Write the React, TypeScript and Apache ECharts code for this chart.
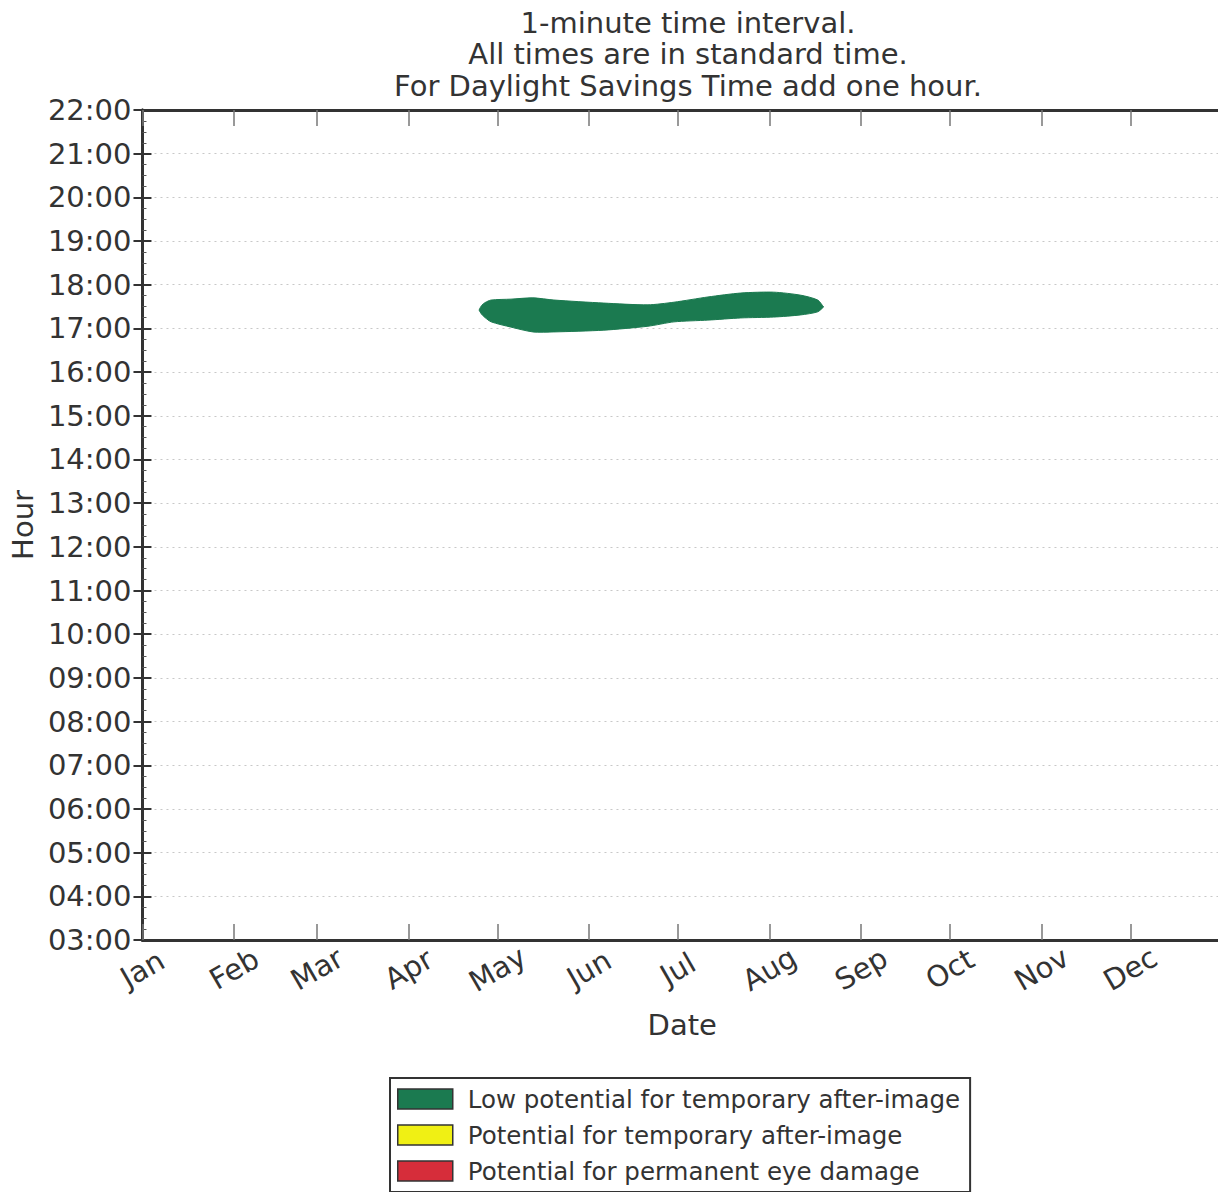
import React, { useEffect, useRef } from "react";
import * as echarts from "echarts";

const titleLines = [
  "1-minute time interval.",
  "All times are in standard time.",
  "For Daylight Savings Time add one hour.",
];
const monthStarts = [0, 31, 59, 90, 120, 151, 181, 212, 243, 273, 304, 334];
const monthNames = ["Jan", "Feb", "Mar", "Apr", "May", "Jun", "Jul", "Aug", "Sep", "Oct", "Nov", "Dec"];
const hourMin = 3;
const hourMax = 22;

// Glare occurrence band: day of year, start hour, end hour
const glareDays = [113.8, 114.6, 115.8, 117.9, 124.6, 132.0, 139.1, 156.0, 170.9, 179.7, 191.2, 202.3, 213.4, 222.6, 228.3, 230.3];
const glareStart = [17.42, 17.33, 17.25, 17.15, 17.03, 16.92, 16.92, 16.96, 17.05, 17.15, 17.19, 17.24, 17.26, 17.31, 17.38, 17.49];
const glareEnd = [17.42, 17.52, 17.59, 17.65, 17.67, 17.7, 17.65, 17.58, 17.54, 17.6, 17.72, 17.81, 17.83, 17.76, 17.65, 17.49];

const legendNames = [
  "Low potential for temporary after-image",
  "Potential for temporary after-image",
  "Potential for permanent eye damage",
];
const legendColors = ["#1b7a50", "#f0f014", "#d62d3a"];

const FONT = "DejaVu Sans";
const INK = "#333333";

export default function App() {
  const ref = useRef<HTMLDivElement>(null);
  useEffect(() => {
    if (!ref.current) return;
    const chart = echarts.init(ref.current, undefined, { renderer: "svg" });
    const glareData = glareDays.map((d, i) => [d, glareStart[i], glareEnd[i]]);
    const axisLineStyle = { color: INK, width: 3 };
    chart.setOption({
      animation: false,
      backgroundColor: "#ffffff",
      title: {
        text: titleLines.join("\n"),
        left: 683,
        top: 2,
        textAlign: "center",
        textStyle: { fontFamily: FONT, fontSize: 29, fontWeight: "normal", color: INK, lineHeight: 31.5 },
      },
      grid: { left: 141, right: 8, top: 110, bottom: 252, containLabel: false },
      legend: {
        orient: "vertical",
        left: 390,
        top: 1078,
        padding: [8, 10, 8, 7],
        borderColor: INK,
        borderWidth: 2,
        itemWidth: 55,
        itemHeight: 20,
        itemGap: 10,
        textStyle: { fontFamily: FONT, fontSize: 24.5, color: INK, lineHeight: 26, padding: [0, 0, 0, 10] },
        data: legendNames.map((n, i) => ({
          name: n,
          icon: "rect",
          itemStyle: { color: legendColors[i], borderColor: INK, borderWidth: 1.5 },
        })),
      },
      xAxis: [
        {
          type: "value",
          min: 0,
          max: 365,
          name: "Date",
          nameLocation: "middle",
          nameGap: 70,
          nameTextStyle: { fontFamily: FONT, fontSize: 29, color: INK, verticalAlign: "top" },
          axisLine: { show: true, lineStyle: axisLineStyle },
          axisTick: { show: true, inside: true, length: 16, customValues: monthStarts, lineStyle: { color: "#777", width: 1.5 } },
          axisLabel: {
            customValues: monthStarts,
            rotate: 30,
            align: "center",
            verticalAlign: "middle",
            margin: 29,
            fontFamily: FONT,
            fontSize: 29,
            color: INK,
            formatter: (v: number) => monthNames[monthStarts.indexOf(Math.round(v))] ?? "",
          },
          splitLine: { show: false },
        },
        {
          type: "value",
          position: "top",
          min: 0,
          max: 365,
          axisLine: { show: true, lineStyle: axisLineStyle },
          axisTick: { show: true, inside: true, length: 16, customValues: monthStarts, lineStyle: { color: "#777", width: 1.5 } },
          axisLabel: { show: false },
          splitLine: { show: false },
        },
      ],
      yAxis: [
        {
          type: "value",
          min: hourMin,
          max: hourMax,
          interval: 1,
          name: "Hour",
          nameLocation: "middle",
          nameGap: 103,
          nameRotate: 90,
          nameTextStyle: { fontFamily: FONT, fontSize: 29, color: INK },
          axisLine: { show: true, lineStyle: axisLineStyle },
          axisTick: { show: true, inside: true, length: 9, lineStyle: { color: INK, width: 2 } },
          minorTick: { show: true, splitNumber: 4, length: 4, lineStyle: { color: "#555", width: 1 } },
          axisLabel: {
            margin: 11,
            fontFamily: FONT,
            fontSize: 29,
            color: INK,
            formatter: (v: number) => (v < 10 ? "0" : "") + v + ":00",
          },
          splitLine: { show: true, lineStyle: { color: "#c8c8c8", width: 1, type: [2, 4] } },
        },
        {
          type: "value",
          position: "right",
          min: hourMin,
          max: hourMax,
          interval: 1,
          axisLine: { show: true, lineStyle: axisLineStyle },
          axisTick: { show: true, inside: true, length: 9, lineStyle: { color: INK, width: 2 } },
          axisLabel: { show: false },
          splitLine: { show: false },
        },
      ],
      series: [
        {
          name: legendNames[0],
          type: "custom",
          xAxisIndex: 0,
          yAxisIndex: 0,
          data: glareData,
          encode: { x: 0, y: [1, 2] },
          color: legendColors[0],
          renderItem: (params: any, api: any) => {
            if (params.dataIndex !== 0) return null;
            const top = glareData.map((p) => api.coord([p[0], p[2]]));
            const bottom = glareData.map((p) => api.coord([p[0], p[1]])).reverse();
            return {
              type: "polygon",
              shape: { points: top.concat(bottom), smooth: 0.25 },
              style: { fill: legendColors[0], stroke: legendColors[0], lineWidth: 1 },
            };
          },
        },
        { name: legendNames[1], type: "line", data: [], color: legendColors[1] },
        { name: legendNames[2], type: "line", data: [], color: legendColors[2] },
      ],
    });
    return () => chart.dispose();
  }, []);
  return (
    <div style={{ position: "absolute", left: 0, top: 0, width: 1218, height: 1192, overflow: "hidden" }}>
      <div ref={ref} style={{ width: 1230, height: 1192 }} />
    </div>
  );
}
